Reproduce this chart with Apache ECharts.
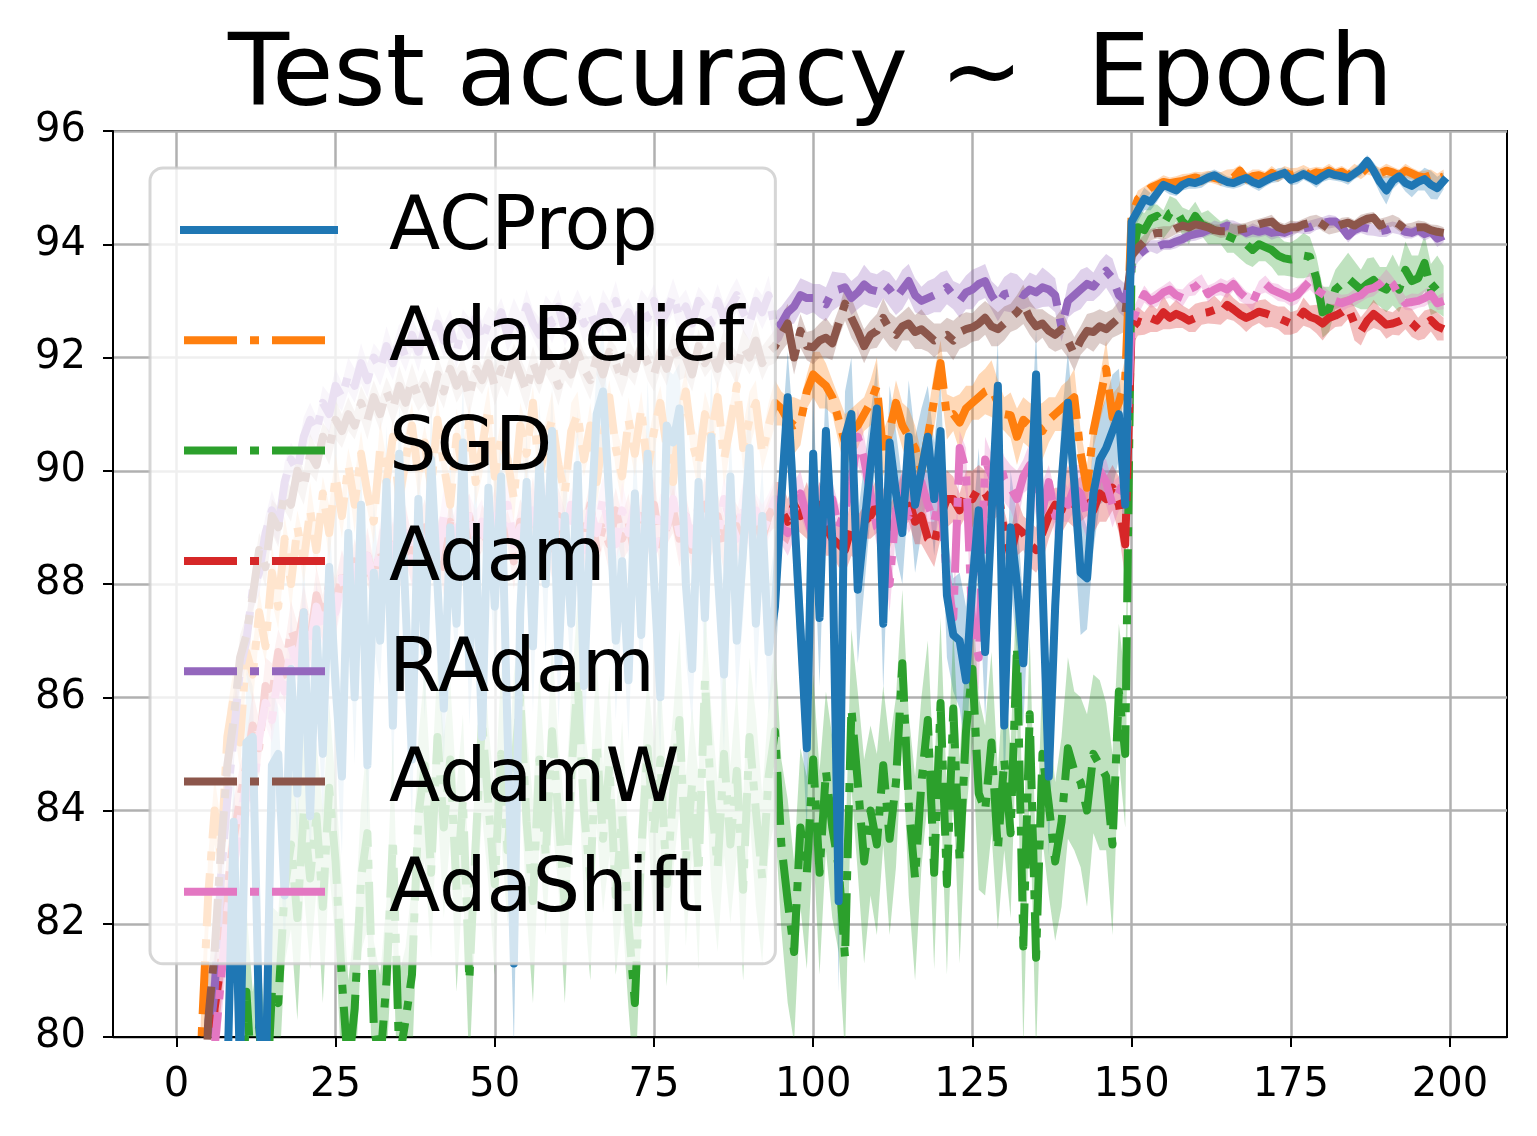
<!DOCTYPE html>
<html><head><meta charset="utf-8">
<script src="https://cdn.jsdelivr.net/npm/echarts@6/dist/echarts.min.js"></script>
<style>html,body{margin:0;padding:0;background:#fff}#c{width:1537px;height:1136px}</style>
</head><body><div id="c"></div>
<script>
const names = ['ACProp', 'AdaBelief', 'SGD', 'Adam', 'RAdam', 'AdamW', 'AdaShift'];
const colors = ['#1f77b4', '#ff7f0e', '#2ca02c', '#d62728', '#9467bd', '#8c564b', '#e377c2'];
const xTicks = [0, 25, 50, 75, 100, 125, 150, 175, 200];

const acprop = [
45,58,66,70,73,75,76.5,78,79.2,83.8,
79.4,85.2,85.3,80.2,79.0,84.8,85.0,82.5,86.5,84.3,
87.5,83.9,87.2,85.0,88.3,86.2,84.6,88.9,86.0,89.4,
84.8,88.2,87.0,89.8,85.5,90.3,87.6,84.9,89.5,86.8,
90.2,88.0,85.8,89.0,87.3,90.5,86.5,88.8,85.3,89.7,
87.6,89.9,85.4,81.3,87.5,89.8,86.9,90.2,88.0,90.7,
86.6,89.2,87.3,90.1,86.2,88.9,91.0,91.4,89.5,87.0,
88.4,86.3,89.6,87.1,90.3,88.1,86.0,90.8,90.5,91.1,
88.0,86.5,89.8,87.4,90.6,88.2,86.4,89.9,87.0,88.6,
90.4,87.3,89.2,86.8,87.6,89.5,91.3,89.3,87.2,85.1,
90.3,87.4,90.7,88.8,82.4,90.6,91.0,87.9,89.0,90.1,
91.1,87.3,90.5,89.6,88.9,90.6,89.4,90.0,90.6,89.5,
90.7,87.8,87.1,87.0,86.3,88.0,89.3,86.8,89.2,91.5,
85.5,89.0,88.0,86.6,89.0,91.7,88.0,84.6,87.6,89.8,
91.2,89.8,88.2,88.1,89.6,90.2,90.4,90.7,91.0,89.4,
94.4,94.6,94.8,94.75,94.9,95.05,95.0,94.95,95.05,95.1,
95.08,95.12,95.18,95.22,95.15,95.1,95.08,95.13,95.17,95.1,
95.06,95.12,95.18,95.22,95.26,95.14,95.18,95.24,95.18,95.12,
95.2,95.26,95.22,95.2,95.17,95.25,95.33,95.47,95.3,95.1,
94.95,95.12,95.2,95.08,95.03,95.1,95.15,95.05,94.99,95.12];

const adabelief = [
40,55,68,76,80.1,82.5,84.0,83.2,85.3,86.0,
85.2,86.8,86.4,87.5,86.9,88.2,87.6,88.8,88.0,89.0,
88.4,89.3,88.6,89.6,88.9,89.9,89.2,90.1,89.4,90.3,
89.6,89.1,90.4,89.8,90.6,89.5,90.2,90.8,89.9,90.5,
89.7,90.9,90.1,89.4,90.6,90.0,90.9,89.8,90.4,91.1,
89.9,90.6,90.2,89.5,90.8,90.3,91.2,89.9,90.5,90.9,
90.1,89.6,90.7,91.0,90.2,90.8,89.8,90.6,91.3,90.4,
89.9,90.9,90.3,91.1,90.0,90.7,91.2,90.4,89.8,90.9,
91.4,90.5,90.1,91.0,90.6,91.3,90.2,90.8,91.5,90.4,
90.9,91.2,90.3,90.8,91.2,91.1,90.9,90.8,90.85,91.4,
91.7,91.6,91.5,91.3,90.9,90.5,90.7,90.8,91.0,91.2,
91.5,90.3,90.7,91.2,90.8,90.6,90.4,90.0,90.6,91.25,
91.9,90.95,91.0,90.85,91.1,91.2,91.3,91.4,91.45,91.2,
91.0,90.98,90.6,90.9,90.8,90.84,90.7,90.9,91.0,91.1,
91.2,91.3,90.3,89.7,90.7,91.25,91.8,90.95,91.2,91.6,
94.5,94.8,94.9,95.0,95.05,95.1,95.08,95.1,95.12,95.15,
95.18,95.15,95.2,95.17,95.15,95.22,95.18,95.3,95.15,95.2,
95.22,95.18,95.26,95.2,95.28,95.22,95.25,95.3,95.22,95.27,
95.25,95.3,95.24,95.28,95.2,95.32,95.25,95.35,95.3,95.25,
95.3,95.27,95.22,95.3,95.25,95.2,95.18,95.22,95.15,95.2];

const sgd = [
30,45,55,62,66,70,72,74,76,77.5,
77.2,80.8,79.0,80.2,78.5,80.8,80.6,82.6,83.4,82.1,
84.0,82.8,83.9,82.3,84.4,83.1,81.0,79.4,80.5,82.8,
83.6,80.2,79.5,81.0,83.5,79.6,80.3,81.1,83.9,84.8,
82.9,85.3,83.7,84.9,82.6,84.2,81.0,83.4,85.6,84.1,
82.7,85.0,83.3,84.7,86.0,83.8,82.4,84.9,83.2,85.4,
83.9,82.3,84.6,86.3,84.0,82.8,85.2,83.5,84.8,82.5,
83.9,82.0,80.6,83.3,85.1,83.6,84.9,82.7,84.3,85.6,
83.1,84.5,82.9,86.3,84.2,83.0,85.0,83.4,84.7,82.6,
85.3,84.0,82.8,84.6,85.4,83.4,82.4,81.5,83.7,82.9,
84.9,82.9,84.7,83.7,83.0,81.4,85.8,84.5,83.1,84.0,
83.4,84.8,83.5,84.5,86.6,84.1,82.8,84.5,85.6,82.9,
85.9,82.7,85.8,83.1,85.4,86.5,84.3,84.0,85.2,83.3,
84.9,83.6,86.9,81.6,85.7,81.4,85.0,84.1,83.1,83.8,
85.1,84.7,84.5,84.0,85.0,84.8,84.6,83.4,86.1,85.0,
93.7,94.3,94.25,94.45,94.5,94.35,94.55,94.6,94.4,94.3,
94.5,94.35,94.3,94.25,94.2,94.15,94.1,94.05,94.0,93.9,
94.0,93.95,93.9,93.8,93.75,93.73,93.75,93.8,93.78,93.4,
92.8,92.85,93.2,93.3,93.4,93.3,93.2,93.3,93.37,93.25,
93.2,93.37,93.2,93.55,93.35,93.4,93.67,93.2,93.3,93.17];

const adam = [
35,50,62,70,75,78.5,80.5,81.3,82.6,83.5,
84.2,84.8,85.5,85.1,86.2,86.0,86.8,86.4,87.2,86.9,
87.5,87.0,87.8,87.4,88.0,87.6,88.2,87.7,88.4,87.9,
88.5,88.0,88.6,88.2,88.8,88.3,88.9,88.4,88.7,89.0,
88.5,88.9,88.3,89.1,88.6,88.9,89.2,88.5,89.0,88.7,
89.3,88.6,89.0,88.4,89.1,88.8,89.4,88.7,89.0,88.5,
89.2,88.9,88.3,89.1,88.8,89.4,88.6,89.0,88.7,89.3,
88.8,89.1,88.5,89.2,88.9,89.4,88.7,89.0,89.3,88.8,
89.2,88.6,89.1,89.4,88.9,89.2,88.7,89.3,89.0,88.8,
89.4,89.1,88.8,89.2,89.4,89.3,89.1,89.4,89.2,89.3,
89.0,89.4,89.0,88.8,88.7,88.6,89.0,88.8,89.1,89.2,
89.4,89.3,89.0,89.3,89.5,89.5,89.1,89.2,88.8,88.7,
89.2,89.5,89.5,89.3,89.6,89.5,89.7,89.6,89.4,89.7,
88.9,88.5,89.0,88.9,88.7,88.6,88.9,89.2,89.4,89.3,
89.6,89.4,89.5,89.5,89.3,89.6,89.5,89.7,89.4,88.7,
92.5,92.64,92.6,92.7,92.65,92.8,92.7,92.77,92.72,92.65,
92.7,92.78,92.8,92.84,92.78,92.93,92.85,92.76,92.7,92.75,
92.81,92.78,92.74,92.7,92.65,92.6,92.64,92.81,92.72,92.68,
92.6,92.7,92.74,92.8,92.88,92.6,92.46,92.65,92.77,92.68,
92.58,92.6,92.64,92.7,92.61,92.5,92.58,92.66,92.55,92.5];

const radam = [
40,55,66,73,77.5,79.8,80.8,82.8,84.2,85.3,
86.5,87.0,87.9,88.2,88.9,89.3,89.0,89.8,90.2,90.0,
90.6,90.9,90.7,91.2,91.0,91.5,91.3,91.7,91.5,91.9,
91.6,92.0,91.8,92.2,91.9,92.3,92.0,92.4,92.1,92.5,
92.2,92.6,92.3,92.5,92.1,92.6,92.4,92.7,92.3,92.6,
92.5,92.8,92.4,92.7,92.5,92.9,92.6,92.4,92.8,92.6,
92.9,92.5,92.7,92.9,92.6,92.8,92.5,92.9,92.7,93.0,
92.6,92.8,92.5,92.9,92.7,93.0,92.6,92.8,93.1,92.7,
92.9,92.6,93.0,92.8,92.6,93.0,92.7,92.9,93.1,92.8,
92.6,93.0,92.8,93.1,92.5,92.6,92.8,92.9,93.1,93.05,
93.05,93.0,92.94,93.17,93.2,93.24,93.05,93.15,93.29,93.2,
93.17,93.3,93.2,93.05,93.2,93.35,93.1,93.0,93.05,93.1,
93.15,93.24,93.1,93.0,93.15,93.2,93.3,93.35,93.1,92.94,
93.12,93.15,93.17,93.1,93.2,93.15,93.24,93.2,93.1,92.53,
93.0,93.1,93.2,93.3,93.25,93.4,93.53,93.4,93.1,93.0,
93.6,93.8,93.9,93.97,93.95,94.0,94.0,94.05,94.09,94.15,
94.18,94.2,94.25,94.3,94.28,94.33,94.3,94.27,94.2,94.25,
94.22,94.25,94.2,94.22,94.2,94.25,94.3,94.28,94.3,94.35,
94.38,94.4,94.4,94.3,94.15,94.25,94.3,94.28,94.25,94.23,
94.25,94.3,94.27,94.22,94.2,94.25,94.18,94.22,94.1,94.15];

const adamw = [
38,52,64,72,77,80.3,81.5,83.3,84.8,85.6,
86.7,87.1,87.8,88.6,88.3,89.2,89.0,89.6,89.4,90.0,
89.7,90.3,90.1,90.6,90.4,90.9,90.7,91.0,90.8,91.2,
90.9,91.3,91.0,91.4,91.1,91.5,91.2,91.6,91.3,91.5,
91.2,91.7,91.4,91.8,91.5,91.7,91.3,91.8,91.6,91.9,
91.5,91.8,91.6,92.0,91.7,91.4,91.9,91.6,92.0,91.8,
91.5,91.9,91.7,92.1,91.8,91.6,92.0,91.7,92.1,91.9,
91.6,92.0,91.8,92.2,91.9,91.7,92.1,91.8,92.2,91.9,
92.0,91.7,92.2,91.9,92.1,91.8,92.2,92.0,91.8,92.2,
92.0,92.3,91.9,92.1,92.2,92.4,92.6,92.0,92.47,92.2,
92.18,92.3,92.35,92.25,92.6,92.95,92.7,92.47,92.2,92.4,
92.47,92.7,92.5,92.4,92.55,92.6,92.45,92.5,92.4,92.3,
92.35,92.4,92.3,92.45,92.5,92.53,92.6,92.7,92.55,92.5,
92.6,92.7,92.8,92.94,92.7,92.55,92.6,92.47,92.4,92.5,
92.3,92.06,92.3,92.47,92.45,92.55,92.5,92.6,92.7,92.76,
93.8,93.94,94.05,94.17,94.2,94.2,94.22,94.28,94.33,94.3,
94.35,94.33,94.3,94.25,94.23,94.23,94.25,94.26,94.28,94.3,
94.35,94.38,94.4,94.3,94.26,94.3,94.3,94.35,94.38,94.42,
94.35,94.27,94.3,94.35,94.38,94.33,94.4,94.45,94.47,94.33,
94.38,94.42,94.35,94.26,94.28,94.3,94.3,94.25,94.22,94.2];

const adashift = [
36,50,61,69,74,77.5,79.8,81.0,82.2,83.0,
83.8,84.5,84.2,85.3,85.9,85.6,86.4,86.1,86.9,86.6,
87.3,86.9,87.6,87.2,87.9,87.5,88.1,87.7,88.3,87.8,
88.5,88.0,88.6,88.1,88.8,88.3,88.9,88.4,89.0,88.6,
89.1,88.5,89.2,88.7,89.0,88.6,89.3,88.8,89.1,88.5,
89.2,88.9,89.4,88.7,89.0,88.6,89.3,88.9,89.5,88.8,
89.1,88.7,89.4,89.0,88.6,89.3,88.9,89.5,89.0,88.7,
89.3,88.9,89.4,88.8,89.2,88.6,89.3,89.0,89.5,88.9,
89.2,88.7,89.4,89.0,89.3,88.8,89.5,89.1,88.8,89.4,
89.0,89.3,88.9,89.2,89.5,89.0,88.9,89.3,89.6,89.2,
88.8,89.4,89.1,89.5,89.0,89.3,89.8,90.6,90.2,89.6,
89.0,88.9,88.0,89.3,89.6,89.2,89.5,89.8,89.4,89.1,
89.6,88.1,87.4,90.4,90.0,87.2,86.7,90.2,89.9,90.3,
89.85,89.7,89.5,89.9,90.1,89.6,89.3,89.8,89.2,89.5,
89.4,89.7,89.6,89.2,89.5,90.0,89.8,89.4,89.6,89.9,
92.6,92.9,93.12,93.0,93.05,93.15,93.2,93.1,93.05,93.2,
93.25,93.35,93.12,93.2,93.25,93.2,93.3,93.15,93.05,92.96,
93.23,93.3,93.2,93.15,93.1,93.05,93.1,93.23,93.35,93.2,
93.12,93.05,93.0,92.96,93.0,93.06,93.1,93.2,93.23,93.3,
93.41,93.3,93.1,92.96,92.98,93.0,93.05,93.12,92.96,93.0];

// spread (std) of each run group, per epoch
const sdAcprop = [
2.0,2.0,1.8,1.8,1.6,1.5,1.5,1.4,1.3,1.2,
1.1,1.3,0.9,1.2,1.0,1.4,0.8,1.1,1.2,0.9,
1.3,1.0,0.9,1.2,1.1,0.8,1.4,1.0,1.2,0.9,
1.1,1.3,0.8,1.0,1.2,0.9,1.4,1.1,1.0,1.2,
0.9,1.3,1.0,1.1,0.8,1.2,1.0,1.4,1.1,0.9,
1.2,1.0,1.3,1.5,1.1,0.9,1.2,1.0,1.3,0.8,
1.1,1.2,0.9,1.0,1.3,1.1,0.8,1.2,1.0,1.4,
0.9,1.1,1.2,1.0,1.3,0.9,1.1,1.0,1.2,0.8,
1.3,1.0,1.1,0.9,1.2,1.0,1.4,0.9,1.1,1.2,
1.0,1.3,0.9,1.1,1.2,1.0,0.8,1.3,1.1,1.5,
1.0,1.2,0.9,1.1,1.6,0.8,1.0,1.3,1.1,0.9,
0.8,1.2,1.0,1.1,0.9,1.0,1.2,1.1,0.9,1.0,
0.9,1.1,1.0,1.2,1.3,1.0,1.1,1.2,1.0,0.8,
1.3,1.0,1.2,1.1,1.0,0.8,1.2,1.4,1.0,1.1,
0.9,1.0,1.1,0.9,1.0,0.8,0.9,1.0,0.8,1.0,
0.3,0.2,0.2,0.15,0.15,0.1,0.12,0.1,0.1,0.12,
0.1,0.12,0.1,0.1,0.12,0.1,0.1,0.12,0.1,0.1,
0.12,0.1,0.1,0.12,0.1,0.1,0.12,0.1,0.1,0.12,
0.1,0.12,0.1,0.1,0.12,0.1,0.12,0.1,0.15,0.2,
0.25,0.15,0.12,0.15,0.2,0.15,0.2,0.25,0.2,0.15];

const sdAdabelief = [
1.5,1.4,1.2,1.0,0.8,0.7,0.6,0.6,0.5,0.5,
0.5,0.4,0.5,0.4,0.3,0.5,0.4,0.4,0.5,0.3,
0.4,0.5,0.4,0.3,0.5,0.4,0.4,0.3,0.5,0.4,
0.3,0.4,0.5,0.4,0.3,0.4,0.5,0.4,0.4,0.3,
0.5,0.4,0.3,0.4,0.5,0.4,0.3,0.4,0.5,0.4,
0.4,0.3,0.5,0.4,0.4,0.5,0.3,0.4,0.4,0.5,
0.3,0.4,0.5,0.4,0.3,0.4,0.4,0.5,0.3,0.4,
0.5,0.4,0.4,0.3,0.5,0.4,0.3,0.4,0.5,0.4,
0.4,0.3,0.5,0.4,0.4,0.3,0.5,0.4,0.3,0.4,
0.5,0.4,0.3,0.4,0.4,0.3,0.4,0.5,0.4,0.3,
0.4,0.5,0.4,0.3,0.4,0.5,0.4,0.4,0.3,0.4,
0.5,0.4,0.3,0.4,0.4,0.5,0.4,0.3,0.4,0.5,
0.4,0.4,0.3,0.5,0.4,0.3,0.4,0.4,0.5,0.4,
0.3,0.4,0.5,0.4,0.4,0.3,0.5,0.4,0.3,0.4,
0.4,0.5,0.4,0.4,0.3,0.4,0.5,0.4,0.3,0.4,
0.2,0.15,0.12,0.1,0.1,0.12,0.1,0.1,0.12,0.1,
0.1,0.12,0.1,0.1,0.12,0.1,0.15,0.1,0.1,0.12,
0.1,0.1,0.12,0.1,0.1,0.12,0.1,0.1,0.12,0.1,
0.1,0.12,0.1,0.1,0.12,0.1,0.1,0.12,0.1,0.1,
0.12,0.1,0.1,0.12,0.1,0.1,0.12,0.1,0.1,0.12];

const sdSgd = [
3,3,3,2.5,2.5,2.2,2.0,2.0,1.8,1.8,
1.6,1.5,1.8,1.4,1.7,1.5,1.6,1.3,1.5,1.8,
1.4,1.6,1.3,1.7,1.5,1.4,1.8,1.6,1.5,1.3,
1.7,1.5,1.6,1.4,1.8,1.5,1.3,1.6,1.4,1.7,
1.5,1.3,1.6,1.4,1.8,1.5,1.6,1.3,1.7,1.4,
1.6,1.5,1.3,1.7,1.4,1.6,1.8,1.5,1.4,1.6,
1.3,1.7,1.5,1.4,1.6,1.8,1.5,1.3,1.6,1.4,
1.7,1.5,1.6,1.4,1.3,1.6,1.5,1.8,1.4,1.6,
1.5,1.3,1.7,1.4,1.6,1.5,1.8,1.4,1.5,1.6,
1.4,1.7,1.5,1.3,1.6,1.5,1.8,1.6,1.4,1.7,
1.5,1.8,1.4,1.6,1.5,1.7,1.4,1.6,1.8,1.5,
1.6,1.4,1.7,1.5,1.3,1.6,1.8,1.5,1.4,1.7,
1.5,1.6,1.4,1.8,1.5,1.3,1.7,1.5,1.6,1.4,
1.6,1.5,1.3,1.8,1.4,1.7,1.5,1.6,1.4,1.5,
1.6,1.4,1.5,1.7,1.4,1.5,1.3,1.6,1.2,1.3,
0.4,0.3,0.3,0.25,0.2,0.25,0.3,0.2,0.25,0.3,
0.25,0.2,0.3,0.25,0.2,0.3,0.25,0.3,0.35,0.3,
0.3,0.25,0.3,0.35,0.3,0.3,0.35,0.4,0.35,0.4,
0.45,0.4,0.35,0.4,0.45,0.4,0.35,0.45,0.4,0.35,
0.4,0.45,0.4,0.5,0.45,0.4,0.5,0.45,0.5,0.45];

const sdAdam = [
2,2,1.8,1.5,1.2,1.0,0.9,0.8,0.7,0.7,
0.6,0.5,0.6,0.5,0.5,0.6,0.4,0.5,0.5,0.4,
0.5,0.4,0.5,0.4,0.4,0.5,0.4,0.5,0.4,0.4,
0.5,0.4,0.4,0.5,0.3,0.4,0.5,0.4,0.4,0.5,
0.4,0.3,0.5,0.4,0.4,0.5,0.4,0.3,0.4,0.5,
0.4,0.4,0.3,0.5,0.4,0.4,0.5,0.3,0.4,0.4,
0.5,0.4,0.3,0.4,0.5,0.4,0.4,0.3,0.5,0.4,
0.4,0.5,0.3,0.4,0.4,0.5,0.4,0.3,0.4,0.5,
0.4,0.4,0.3,0.5,0.4,0.4,0.5,0.3,0.4,0.4,
0.5,0.4,0.4,0.3,0.4,0.5,0.4,0.4,0.3,0.5,
0.4,0.4,0.5,0.3,0.4,0.4,0.5,0.4,0.3,0.4,
0.5,0.4,0.4,0.3,0.5,0.4,0.4,0.5,0.3,0.4,
0.4,0.5,0.4,0.3,0.4,0.5,0.4,0.4,0.3,0.5,
0.4,0.4,0.5,0.3,0.4,0.4,0.5,0.4,0.3,0.4,
0.5,0.4,0.4,0.3,0.4,0.5,0.4,0.4,0.5,0.6,
0.3,0.25,0.2,0.25,0.2,0.3,0.2,0.25,0.2,0.2,
0.25,0.2,0.2,0.25,0.2,0.25,0.2,0.2,0.25,0.2,
0.2,0.25,0.2,0.2,0.25,0.2,0.2,0.25,0.2,0.25,
0.3,0.25,0.2,0.25,0.2,0.3,0.25,0.2,0.25,0.2,
0.25,0.2,0.25,0.2,0.25,0.2,0.25,0.2,0.25,0.2];

const sdRadam = [
2,1.8,1.5,1.2,1.0,0.8,0.7,0.6,0.5,0.5,
0.4,0.4,0.35,0.4,0.3,0.35,0.3,0.35,0.3,0.3,
0.35,0.3,0.25,0.3,0.35,0.3,0.25,0.3,0.3,0.35,
0.3,0.25,0.3,0.35,0.3,0.3,0.25,0.3,0.35,0.3,
0.25,0.3,0.3,0.35,0.3,0.25,0.3,0.3,0.35,0.3,
0.3,0.25,0.3,0.35,0.3,0.3,0.25,0.3,0.3,0.35,
0.3,0.3,0.25,0.3,0.35,0.3,0.25,0.3,0.3,0.35,
0.3,0.25,0.3,0.3,0.35,0.3,0.3,0.25,0.3,0.35,
0.3,0.3,0.25,0.3,0.35,0.3,0.25,0.3,0.3,0.35,
0.3,0.25,0.3,0.35,0.3,0.3,0.25,0.3,0.3,0.3,
0.25,0.3,0.3,0.35,0.3,0.25,0.3,0.3,0.35,0.3,
0.3,0.25,0.3,0.3,0.35,0.3,0.3,0.25,0.3,0.3,
0.35,0.3,0.25,0.3,0.3,0.35,0.3,0.3,0.25,0.3,
0.3,0.35,0.3,0.25,0.3,0.3,0.35,0.3,0.3,0.25,
0.3,0.3,0.35,0.3,0.25,0.3,0.3,0.35,0.3,0.3,
0.15,0.12,0.1,0.1,0.12,0.1,0.1,0.12,0.1,0.1,
0.12,0.1,0.1,0.12,0.1,0.1,0.12,0.1,0.1,0.12,
0.1,0.1,0.12,0.1,0.1,0.12,0.1,0.1,0.12,0.1,
0.1,0.12,0.1,0.1,0.12,0.1,0.1,0.12,0.1,0.1,
0.12,0.1,0.1,0.12,0.1,0.1,0.12,0.1,0.15,0.12];

const sdAdamw = [
2,1.8,1.5,1.2,1.0,0.8,0.7,0.6,0.5,0.5,
0.4,0.35,0.4,0.3,0.35,0.3,0.35,0.3,0.3,0.35,
0.3,0.35,0.3,0.25,0.3,0.35,0.3,0.3,0.25,0.3,
0.35,0.3,0.3,0.25,0.3,0.35,0.3,0.3,0.25,0.3,
0.3,0.35,0.3,0.25,0.3,0.3,0.35,0.3,0.25,0.3,
0.35,0.3,0.3,0.25,0.3,0.35,0.3,0.25,0.3,0.3,
0.35,0.3,0.25,0.3,0.3,0.35,0.3,0.3,0.25,0.3,
0.3,0.35,0.3,0.25,0.3,0.3,0.35,0.3,0.25,0.3,
0.35,0.3,0.3,0.25,0.3,0.35,0.3,0.25,0.3,0.3,
0.3,0.35,0.3,0.25,0.3,0.3,0.35,0.3,0.3,0.25,
0.3,0.3,0.35,0.3,0.25,0.3,0.35,0.3,0.3,0.25,
0.3,0.35,0.3,0.3,0.25,0.3,0.3,0.35,0.3,0.3,
0.25,0.3,0.35,0.3,0.3,0.25,0.3,0.3,0.35,0.3,
0.3,0.25,0.3,0.35,0.3,0.3,0.25,0.3,0.3,0.35,
0.3,0.3,0.25,0.3,0.35,0.3,0.3,0.25,0.3,0.3,
0.15,0.12,0.12,0.1,0.1,0.12,0.1,0.1,0.12,0.1,
0.1,0.12,0.1,0.1,0.12,0.1,0.12,0.1,0.1,0.12,
0.1,0.1,0.12,0.1,0.1,0.12,0.1,0.1,0.12,0.1,
0.12,0.1,0.1,0.12,0.1,0.1,0.12,0.1,0.1,0.12,
0.1,0.1,0.12,0.1,0.1,0.12,0.1,0.1,0.12,0.1];

const sdAdashift = [
2,2,1.8,1.5,1.2,1.0,0.9,0.8,0.7,0.6,
0.5,0.5,0.4,0.5,0.4,0.4,0.5,0.4,0.4,0.3,
0.4,0.5,0.4,0.3,0.4,0.4,0.5,0.4,0.3,0.4,
0.4,0.3,0.5,0.4,0.4,0.3,0.4,0.5,0.4,0.3,
0.4,0.4,0.5,0.3,0.4,0.4,0.3,0.5,0.4,0.4,
0.3,0.4,0.5,0.4,0.3,0.4,0.4,0.5,0.3,0.4,
0.4,0.5,0.3,0.4,0.4,0.3,0.5,0.4,0.4,0.3,
0.5,0.4,0.3,0.4,0.4,0.5,0.3,0.4,0.4,0.5,
0.3,0.4,0.4,0.5,0.3,0.4,0.4,0.3,0.5,0.4,
0.4,0.3,0.5,0.4,0.4,0.3,0.4,0.5,0.4,0.3,
0.4,0.4,0.5,0.3,0.4,0.4,0.3,0.5,0.4,0.4,
0.3,0.4,0.5,0.4,0.4,0.3,0.4,0.4,0.5,0.3,
0.4,0.5,0.4,0.3,0.4,0.5,0.6,0.4,0.4,0.3,
0.4,0.4,0.5,0.3,0.4,0.4,0.5,0.3,0.4,0.4,
0.3,0.4,0.5,0.4,0.4,0.3,0.4,0.4,0.3,0.4,
0.2,0.15,0.15,0.12,0.15,0.12,0.15,0.12,0.15,0.12,
0.15,0.12,0.15,0.12,0.15,0.15,0.12,0.15,0.12,0.15,
0.12,0.15,0.12,0.15,0.12,0.15,0.15,0.12,0.15,0.12,
0.15,0.12,0.15,0.15,0.12,0.15,0.12,0.15,0.15,0.12,
0.15,0.12,0.15,0.12,0.15,0.12,0.15,0.15,0.12,0.15];

const means = [acprop, adabelief, sgd, adam, radam, adamw, adashift];
const spreads = [sdAcprop, sdAdabelief, sdSgd, sdAdam, sdRadam, sdAdamw, sdAdashift];
const dashDot = [53, 13, 9, 13];
const FONT = 'DejaVu Sans';

const series = [];
// shaded bands (mean ± spread), drawn below the lines
means.forEach((m, k) => {
  const sd = spreads[k];
  series.push({
    type: 'custom', name: names[k] + ' band', silent: true, z: 1,
    data: [[0, m[0]]],
    renderItem: function (params, api) {
      const upper = [], lower = [];
      for (let i = 0; i < m.length; i++) {
        upper.push(api.coord([i, m[i] + sd[i]]));
        lower.push(api.coord([i, m[i] - sd[i]]));
      }
      const pts = upper.concat(lower.reverse());
      const cs = params.coordSys;
      return {
        type: 'polygon',
        shape: { points: pts },
        style: { fill: colors[k], opacity: 0.3, stroke: null },
        clipPath: { type: 'rect', shape: { x: cs.x, y: cs.y, width: cs.width, height: cs.height } }
      };
    }
  });
});
// mean lines: ACProp last so it sits on top
const order = [1, 2, 3, 4, 5, 6, 0];
order.forEach(k => {
  series.push({
    type: 'line', name: names[k], symbol: 'none', z: 3, clip: true,
    data: means[k].map((v, i) => [i, v]),
    itemStyle: { color: colors[k] },
    lineStyle: {
      color: colors[k], width: 8,
      type: k === 0 ? 'solid' : dashDot,
      cap: k === 0 ? 'square' : 'butt', join: 'round'
    },
    emphasis: { disabled: true }
  });
});

const chart = echarts.init(document.getElementById('c'), null, { renderer: 'canvas' });
chart.setOption({
  animation: false,
  backgroundColor: '#fff',
  textStyle: { fontFamily: FONT },
  title: {
    text: 'Test accuracy ~  Epoch', left: 228, top: 21, padding: 0,
    textStyle: { fontFamily: FONT, fontSize: 100, fontWeight: 'normal', color: '#000', lineHeight: 116 }
  },
  grid: { left: 113, right: 30, top: 131, bottom: 99, show: true, borderColor: '#000', borderWidth: 2, containLabel: false },
  xAxis: {
    type: 'value', min: -9.95, max: 208.95,
    axisLine: { show: true, onZero: false, lineStyle: { color: '#000', width: 2 } },
    axisTick: { show: true, customValues: xTicks, length: 10, lineStyle: { color: '#000', width: 2 } },
    axisLabel: { customValues: xTicks, fontSize: 40, color: '#000', fontFamily: FONT, margin: 29 },
    splitLine: { show: true, lineStyle: { color: '#b0b0b0', width: 2.5 } }
  },
  yAxis: {
    type: 'value', min: 80, max: 96, interval: 2,
    axisLine: { show: true, onZero: false, lineStyle: { color: '#000', width: 2 } },
    axisTick: { show: true, length: 10, lineStyle: { color: '#000', width: 2 } },
    axisLabel: { fontSize: 40, color: '#000', fontFamily: FONT, margin: 27 },
    splitLine: { show: true, lineStyle: { color: '#b0b0b0', width: 2.5 } }
  },
  legend: {
    orient: 'vertical', left: 150, top: 168,
    padding: [22, 31, 32, 30],
    itemWidth: 150, itemHeight: 8, itemGap: 30.3,
    selectedMode: false,
    backgroundColor: 'rgba(255,255,255,0.8)',
    borderColor: 'rgba(204,204,204,0.8)', borderWidth: 3, borderRadius: 13,
    textStyle: { fontFamily: FONT, fontSize: 75, color: '#000', lineHeight: 60, padding: [20, 0, 0, 50] },
    data: names.map((n, k) => ({
      name: n,
      itemStyle: { opacity: 0 },
      lineStyle: { color: colors[k], width: 8, type: k === 0 ? 'solid' : dashDot, cap: k === 0 ? 'square' : 'butt', opacity: 1 }
    }))
  },
  series: series
});
</script>
</body></html>
